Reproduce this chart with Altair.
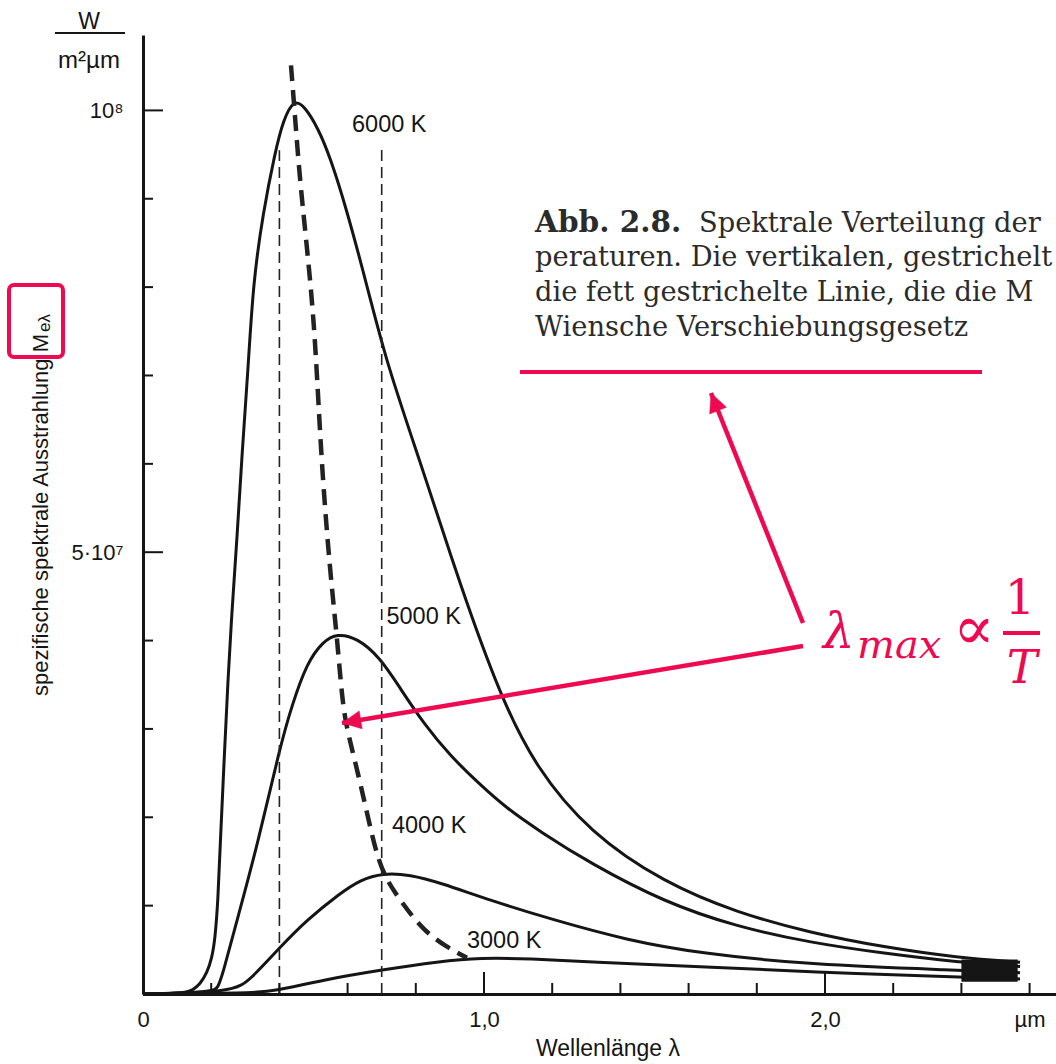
import math
import altair as alt
import pandas as pd

# ---------------- data ----------------
# wavelength in µm, spectral exitance in 10^6 W/(m² µm)
lam_6000 = [0.0, 0.129, 0.147, 0.167, 0.188, 0.202, 0.211, 0.220, 0.226, 0.238, 0.249, 0.261, 0.276,
            0.290, 0.308, 0.323, 0.352, 0.387, 0.411, 0.443, 0.475, 0.513, 0.548, 0.598, 0.660,
            0.716, 0.821, 0.930, 1.047, 1.150, 1.311, 1.528, 1.742, 1.959, 2.173, 2.390, 2.572]
m_6000 = [0.0, 0.1, 0.5, 1.1, 2.4, 4.1, 6.1, 10.6, 16.6, 26.5, 35.5, 43.5, 51.7,
          61.0, 70.6, 80.5, 88.4, 95.2, 98.9, 101.3, 100.4, 98.0, 94.8, 88.7, 79.7,
          71.2, 59.3, 46.3, 33.8, 25.7, 18.2, 12.6, 9.2, 6.9, 5.3, 4.1, 3.6]

lam_5000 = [0.0, 0.205, 0.220, 0.235, 0.276, 0.334, 0.402, 0.437, 0.481, 0.528, 0.569, 0.628,
            0.695, 0.754, 0.827, 0.900, 0.988, 1.067, 1.164, 1.311, 1.528, 1.742, 1.959, 2.173,
            2.390, 2.572]
m_5000 = [0.0, 0.2, 0.7, 2.4, 8.4, 16.6, 28.0, 32.7, 37.5, 39.9, 40.8, 40.3,
          38.1, 34.6, 30.4, 27.0, 23.7, 21.0, 18.4, 14.8, 10.4, 7.6, 5.8, 4.6,
          3.6, 3.1]

lam_4000 = [0.0, 0.264, 0.314, 0.402, 0.481, 0.578, 0.636, 0.704, 0.783, 0.871, 1.018, 1.202,
            1.419, 1.633, 1.959, 2.390, 2.572]
m_4000 = [0.0, 0.2, 1.6, 5.3, 8.4, 11.4, 12.9, 13.7, 13.5, 12.6, 10.6, 8.4,
          6.1, 4.6, 3.3, 2.7, 2.4]

lam_3000 = [0.0, 0.314, 0.381, 0.528, 0.695, 0.871, 0.988, 1.135, 1.311, 1.633, 1.959, 2.390, 2.572]
m_3000 = [0.0, 0.1, 0.3, 1.6, 2.7, 3.7, 4.1, 4.0, 3.6, 3.1, 2.5, 1.9, 1.7]

# Wien displacement locus (bold dashed)
lam_wien = [0.434, 0.443, 0.460, 0.481, 0.499, 0.510, 0.525, 0.548, 0.569, 0.584, 0.598, 0.636,
            0.674, 0.704, 0.754, 0.821, 0.891, 0.950]
m_wien = [105.1, 100.7, 92.1, 84.5, 77.1, 70.3, 59.3, 48.0, 40.4, 33.3, 29.9, 24.2,
          17.4, 13.5, 10.6, 7.2, 5.3, 4.1]

# visible range limits (thin dashed verticals)
vis_lam = [0.40, 0.70]
vis_top = [95.5, 95.7]

# converging tails drawn as a solid block
block_lam = [2.40, 2.565]
block_m = [1.4, 3.9]

# curve labels
label_text = ["6000 K", "5000 K", "4000 K", "3000 K"]
label_lam = [0.613, 0.714, 0.730, 0.950]
label_m = [98.3, 42.7, 19.0, 6.0]

# axis ticks
x_minor = [0.2, 0.4, 0.6, 0.8, 1.2, 1.4, 1.6, 1.8, 2.2, 2.4, 2.6]
x_major = [1.0, 2.0]
y_minor = [10, 20, 30, 40, 60, 70, 80, 90]
y_major = [50, 100]

# ---------------- layout ----------------
OX, OY = 143, 35          # plot origin on the page
W, H = 913, 959
XMAX = W / 341.0
YMAX = H / 8.836
RED = "#ee0a50"
INK = "#151515"
SANS = "Liberation Sans"

xs = alt.Scale(domain=[0, XMAX], nice=False, zero=False)
ys = alt.Scale(domain=[0, YMAX], nice=False, zero=False)
x_axis = alt.Axis(values=[0, 1, 2, 2.6],
                  labelExpr="datum.value == 0 ? '0' : datum.value == 1 ? '1,0' : datum.value == 2 ? '2,0' : 'µm'",
                  title="", grid=False, ticks=False, domain=True, domainWidth=3, domainColor=INK,
                  labelFont=SANS, labelFontSize=22, labelColor=INK, labelPadding=15,
                  labelFlush=False, labelOverlap=False)
y_axis = alt.Axis(values=[50, 100],
                  labelExpr="datum.value == 100 ? '10⁸' : '5·10⁷'",
                  title="", grid=False, ticks=False, domain=True, domainWidth=3, domainColor=INK,
                  labelFont=SANS, labelFontSize=22, labelColor=INK, labelPadding=20,
                  labelOverlap=False)


def X(f="lam"):
    return alt.X(f"{f}:Q", scale=xs, axis=x_axis)


def Y(f="M"):
    return alt.Y(f"{f}:Q", scale=ys, axis=y_axis)


rows = []
for name, lx, my in [("6000 K", lam_6000, m_6000), ("5000 K", lam_5000, m_5000),
                     ("4000 K", lam_4000, m_4000), ("3000 K", lam_3000, m_3000)]:
    for i, (a, b) in enumerate(zip(lx, my)):
        rows.append({"T": name, "lam": a, "M": b, "i": i})
curves_df = pd.DataFrame(rows)

curves = alt.Chart(curves_df).mark_line(color=INK, strokeWidth=3, interpolate="basis").encode(
    x=X(), y=Y(), detail="T:N", order="i:Q")

wien_df = pd.DataFrame({"lam": lam_wien, "M": m_wien, "i": range(len(lam_wien))})
wien = alt.Chart(wien_df).mark_line(color="#222", strokeWidth=4.5, strokeDash=[16, 9],
                                     interpolate="basis").encode(x=X(), y=Y(), order="i:Q")

vis_df = pd.DataFrame({"lam": vis_lam, "M": [0, 0], "M2": vis_top})
vis = alt.Chart(vis_df).mark_rule(color="#222", strokeWidth=1.6, strokeDash=[11, 6]).encode(
    x=X(), y=Y(), y2="M2:Q")

block_df = pd.DataFrame({"lam": [block_lam[0]], "lam2": [block_lam[1]], "M": [block_m[0]], "M2": [block_m[1]]})
block = alt.Chart(block_df).mark_rect(color=INK).encode(x=X(), x2="lam2:Q", y=Y(), y2="M2:Q")

lab_df = pd.DataFrame({"lam": label_lam, "M": label_m, "t": label_text})
labels = alt.Chart(lab_df).mark_text(align="left", baseline="middle", font=SANS, fontSize=23.5,
                                      color=INK).encode(x=X(), y=Y(), text="t:N")

xt_min = alt.Chart(pd.DataFrame({"lam": x_minor})).mark_rule(color=INK, strokeWidth=2).encode(
    x=X(), y=alt.value(H), y2=alt.value(H - 11))
xt_maj = alt.Chart(pd.DataFrame({"lam": x_major})).mark_rule(color=INK, strokeWidth=2).encode(
    x=X(), y=alt.value(H), y2=alt.value(H - 22))
yt_min = alt.Chart(pd.DataFrame({"M": y_minor})).mark_rule(color=INK, strokeWidth=2).encode(
    y=Y(), x=alt.value(0), x2=alt.value(10))
yt_maj = alt.Chart(pd.DataFrame({"M": y_major})).mark_rule(color=INK, strokeWidth=2).encode(
    y=Y(), x=alt.value(0), x2=alt.value(20))


# ---------------- annotations (page pixel positions) ----------------
def txt(s, px, py, size, font=SANS, color=INK, align="left", baseline="alphabetic", **kw):
    return alt.Chart(pd.DataFrame({"t": [s]})).mark_text(
        font=font, fontSize=size, color=color, align=align, baseline=baseline, **kw).encode(
        x=alt.value(px - OX), y=alt.value(py - OY), text="t:N")


def seg(x1, y1, x2, y2, color, width, **kw):
    return alt.Chart(pd.DataFrame({"a": [0]})).mark_rule(color=color, strokeWidth=width, **kw).encode(
        x=alt.value(x1 - OX), y=alt.value(y1 - OY), x2=alt.value(x2 - OX), y2=alt.value(y2 - OY))


HEAD = "M0,0L0.5,1.05L-0.5,1.05Z"


def arrow(x1, y1, x2, y2, color, width):
    ang = math.degrees(math.atan2(x2 - x1, -(y2 - y1))) % 360
    line = seg(x1, y1, x2, y2, color, width)
    head = alt.Chart(pd.DataFrame({"a": [0]})).mark_point(
        shape=HEAD, filled=True, fill=color, stroke=color, strokeWidth=0.5, size=1300, opacity=1,
        angle=ang).encode(x=alt.value(x2 - OX), y=alt.value(y2 - OY))
    return [line, head]


ann = []
# unit label
ann.append(txt("W", 89, 29, 23, align="center"))
ann.append(seg(55, 33, 125, 33, INK, 2))
ann.append(txt("m²µm", 89, 68, 24, align="center"))
# axis titles
ann.append(txt("Wellenlänge λ", 608, 1056, 23, align="center"))
ann.append(txt("spezifische spektrale Ausstrahlung M", 48, 334, 22, align="right", angle=270))
ann.append(txt("eλ", 50, 332, 17, align="left", angle=270))
# red box around the symbol
ann.append(alt.Chart(pd.DataFrame({"a": [0]})).mark_rect(
    fillOpacity=0, stroke=RED, strokeWidth=4, cornerRadius=5).encode(
    x=alt.value(9 - OX), x2=alt.value(63 - OX), y=alt.value(285 - OY), y2=alt.value(357 - OY)))

# caption excerpt
SERIF = "DejaVu Serif"
CAP = "#2b2b2b"
CS = 27.3
ann.append(txt("Abb. 2.8.", 535, 232, 29.5, font=SERIF, color=CAP, fontWeight="bold"))
ann.append(txt("Spektrale Verteilung der", 699, 232, CS, font=SERIF, color=CAP))
ann.append(txt("peraturen. Die vertikalen, gestrichelt", 535, 266, CS, font=SERIF, color=CAP))
ann.append(txt("die fett gestrichelte Linie, die die M", 535, 301, CS, font=SERIF, color=CAP))
ann.append(txt("Wiensche Verschiebungsgesetz", 535, 336, CS, font=SERIF, color=CAP))
ann.append(seg(520, 372, 982, 372, RED, 4))

# red arrows
ann += arrow(803, 623, 711, 393, RED, 4.5)
ann += arrow(803, 646, 342, 723, RED, 4.5)

# formula  lambda_max ∝ 1/T
MATH = "DejaVu Serif"
ann.append(txt("λ", 823, 648, 50, font=MATH, color=RED, fontStyle="italic"))
ann.append(txt("max", 857, 658, 40, font=MATH, color=RED, fontStyle="italic"))
ann.append(txt("∝", 974, 649, 62, font=MATH, color=RED, align="center"))
ann.append(txt("1", 1020, 614, 48, font=MATH, color=RED, align="center"))
ann.append(seg(1003, 633, 1040, 633, RED, 4))
ann.append(txt("T", 1022, 683, 46, font=MATH, color=RED, align="center", fontStyle="italic"))

layers = [curves, wien, vis, block, labels, xt_min, xt_maj, yt_min, yt_maj] + ann

chart = alt.layer(*layers).properties(
    width=W, height=H,
    padding={"left": OX, "top": OY, "right": 0, "bottom": 1064 - OY - H},
    autosize=alt.AutoSizeParams(type="none"),
    background="white",
).configure_view(stroke=None)

chart.save("out.html", embed_options={"renderer": "svg", "actions": False})
